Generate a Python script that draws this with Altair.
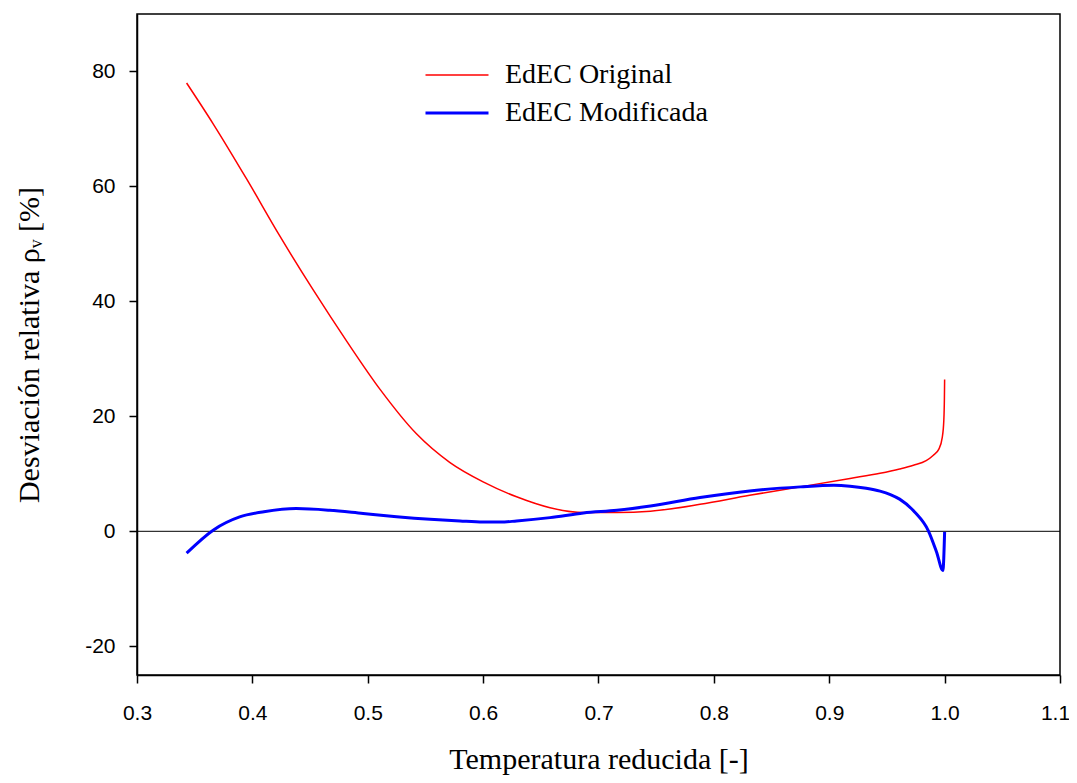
import altair as alt
import pandas as pd

orig_x = [0.343, 0.366, 0.395, 0.424, 0.453, 0.482, 0.511, 0.542, 0.571,
          0.600, 0.629, 0.658, 0.687, 0.716, 0.745, 0.788, 0.831, 0.875, 0.918,
          0.944, 0.961, 0.973, 0.984, 0.990, 0.995, 0.998, 0.9993, 0.9998, 1.0]
orig_y = [78.0, 70.9, 61.3, 51.3, 41.9, 33.0, 24.6, 17.0, 12.0,
          8.6, 6.0, 4.1, 3.26, 3.26, 3.5, 4.7, 6.27, 7.73, 9.2,
          10.1, 10.85, 11.5, 12.3, 13.2, 14.3, 16.4, 19.3, 23.0, 26.4]

mod_x = [0.343, 0.366, 0.389, 0.410, 0.438, 0.467, 0.496, 0.525, 0.554, 0.580,
         0.600, 0.615, 0.629, 0.658, 0.687, 0.716, 0.745, 0.788, 0.831, 0.875,
         0.904, 0.918, 0.932, 0.944, 0.953, 0.961, 0.974, 0.986, 0.993, 0.9985, 1.0]
mod_y = [-3.8, 0.2, 2.5, 3.4, 3.95, 3.66, 3.1, 2.55, 2.1, 1.8,
         1.62, 1.6, 1.8, 2.38, 3.2, 3.66, 4.4, 5.87, 7.03, 7.73,
         8.0, 7.85, 7.5, 7.0, 6.4, 5.6, 3.37, 0.05, -3.6, -6.8, -0.1]

series_names = ["EdEC Original", "EdEC Modificada"]
x_ticks = [0.3, 0.4, 0.5, 0.6, 0.7, 0.8, 0.9, 1.0, 1.1]
y_ticks = [-20, 0, 20, 40, 60, 80]

df = pd.concat([
    pd.DataFrame({"x": orig_x, "y": orig_y, "s": series_names[0], "o": range(len(orig_x))}),
    pd.DataFrame({"x": mod_x, "y": mod_y, "s": series_names[1], "o": range(len(mod_x))}),
])

legend_opts = dict(title=None, orient="none", legendX=306, legendY=47,
                   symbolType="M-3,0H3", symbolSize=441,
                   labelFont="Liberation Serif", labelFontSize=28, labelColor="black",
                   labelOffset=34, rowPadding=10, labelLimit=400)

lines = alt.Chart(df).mark_line(interpolate="monotone").encode(
    x=alt.X("x:Q", scale=alt.Scale(domain=[0.3, 1.1], nice=False, zero=False),
            axis=alt.Axis(values=x_ticks, format=".1f", title="Temperatura reducida [-]",
                          labelFlush=False, labelPadding=19, titlePadding=21,
                          labelOffset={"condition": {"test": "datum.value > 1.05", "value": -5},
                                       "value": 0})),
    y=alt.Y("y:Q", scale=alt.Scale(domain=[-25, 90], nice=False, zero=False),
            axis=alt.Axis(values=y_ticks, title="Desviación relativa ρᵥ [%]",
                          labelFlush=False, labelExpr="'' + datum.value",
                          labelPadding=14, titlePadding=40, titleFontSize=30)),
    color=alt.Color("s:N", scale=alt.Scale(domain=series_names, range=["#ff0000", "#0000ff"]),
                    legend=alt.Legend(**legend_opts)),
    strokeWidth=alt.StrokeWidth("s:N", scale=alt.Scale(domain=series_names, range=[1.5, 3]),
                                legend=alt.Legend(**legend_opts)),
    order="o:Q",
)

zero = alt.Chart(pd.DataFrame({"z": [0]})).mark_rule(color="black", strokeWidth=1).encode(
    y=alt.Y("z:Q")
)

chart = alt.layer(zero, lines).properties(
    width=923, height=661,
    autosize=alt.AutoSizeParams(type="none"),
    padding={"left": 129, "top": 6, "right": 9, "bottom": 100},
).configure_view(
    stroke="black", strokeWidth=1.5
).configure_axis(
    domainColor="black", domainWidth=1.5, tickColor="black", tickWidth=1.5, tickSize=8,
    grid=False, labelFont="Liberation Sans", labelFontSize=21, labelColor="black",
    titleFont="Liberation Serif", titleFontSize=30, titleFontWeight="normal", titleColor="black",
)

chart.save("out.html", embed_options={"renderer": "svg", "actions": False})
